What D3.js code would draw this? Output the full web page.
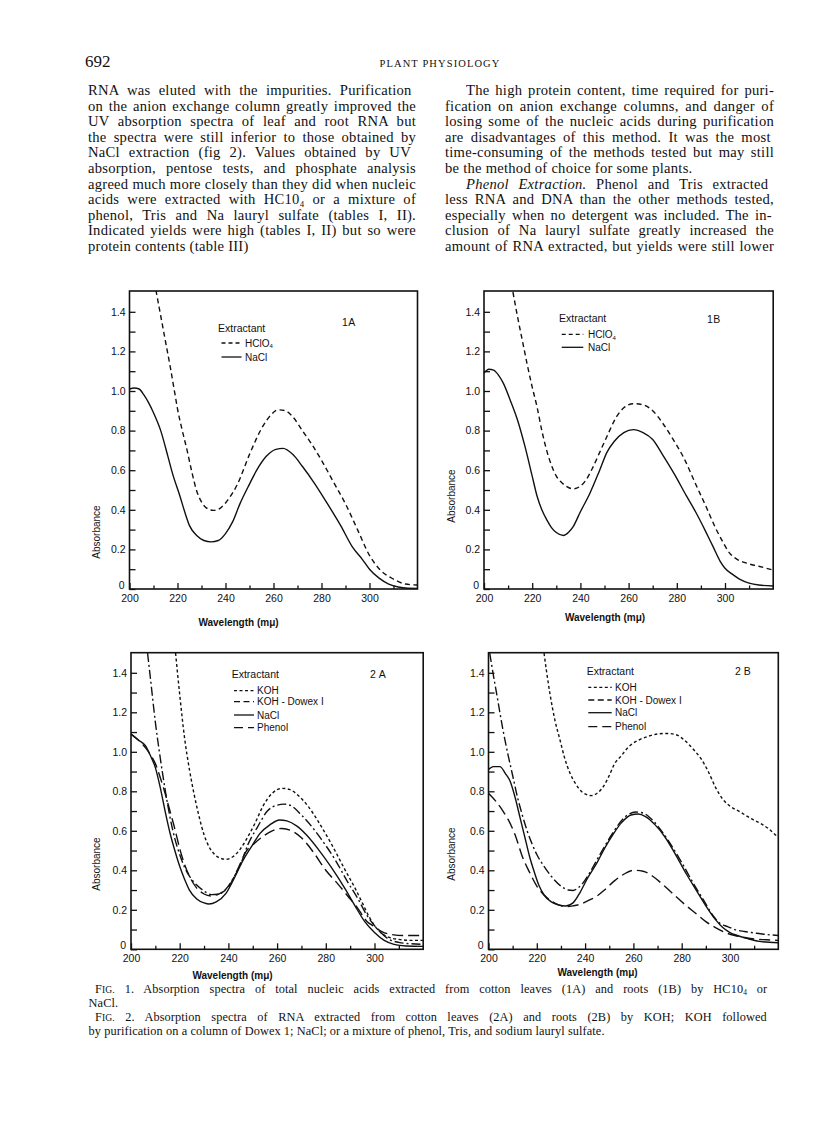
<!DOCTYPE html>
<html><head><meta charset="utf-8">
<script src="https://cdnjs.cloudflare.com/ajax/libs/d3/7.8.5/d3.min.js"></script>
<style>body{margin:0;background:#fff}</style>
</head><body><svg id="c" width="816" height="1127"></svg>
<script>
// ---------- DATA (wavelength nm, absorbance) ----------
const wavelengthMajorTicks = [200, 220, 240, 260, 280, 300];
const wavelengthMinorTicks = [210, 230, 250, 270, 290, 310];
const absorbanceLabelTicks = [0, 0.2, 0.4, 0.6, 0.8, 1.0, 1.2, 1.4];
const absorbanceMinorTicks = [0.1, 0.3, 0.5, 0.7, 0.9, 1.1, 1.3];

const fig1A_HClO4 = [[211,1.51],[213,1.38],[215,1.25],[217,1.12],[219,0.98],[220,0.91],[222,0.80],[224,0.70],[226,0.59],[228,0.495],[230,0.44],[232,0.41],[235,0.397],[238,0.41],[241,0.45],[245,0.53],[250,0.68],[255,0.81],[259,0.88],[262,0.905],[265,0.90],[268,0.87],[272,0.80],[276,0.73],[280,0.65],[285,0.54],[290,0.43],[295,0.30],[300,0.17],[305,0.09],[310,0.05],[315,0.025],[320,0.02]];
const fig1A_NaCl = [[200,1.01],[202,1.015],[204,1.01],[206,0.98],[208,0.94],[210,0.89],[213,0.80],[216,0.67],[218,0.58],[221,0.47],[223,0.39],[225,0.32],[228,0.27],[231,0.245],[234,0.238],[237,0.245],[240,0.28],[243,0.34],[246,0.43],[250,0.53],[253,0.60],[257,0.67],[261,0.705],[264,0.71],[268,0.68],[272,0.62],[277,0.535],[282,0.44],[288,0.32],[293,0.21],[297,0.15],[300,0.10],[304,0.055],[308,0.025],[312,0.01],[316,0.004],[320,0.003]];

const fig1B_HClO4 = [[212,1.50],[214,1.37],[216,1.25],[218,1.13],[220,1.02],[222,0.92],[224,0.80],[226,0.70],[228,0.625],[230,0.57],[232,0.54],[234,0.52],[237,0.506],[240,0.52],[242,0.545],[245,0.61],[248,0.69],[251,0.77],[255,0.87],[258,0.915],[262,0.936],[266,0.93],[270,0.90],[274,0.84],[278,0.765],[283,0.66],[288,0.525],[292,0.42],[296,0.31],[299,0.24],[302,0.18],[305,0.15],[309,0.13],[314,0.115],[320,0.095]];
const fig1B_NaCl = [[200,1.09],[202,1.11],[204,1.105],[206,1.08],[208,1.04],[211,0.95],[214,0.85],[217,0.72],[220,0.57],[222,0.47],[224,0.40],[226,0.35],[228,0.31],[230,0.285],[233,0.27],[235,0.285],[237,0.315],[240,0.39],[244,0.485],[248,0.60],[251,0.69],[254,0.745],[258,0.79],[262,0.805],[266,0.79],[270,0.755],[274,0.68],[279,0.58],[284,0.47],[288,0.385],[292,0.29],[295,0.215],[298,0.14],[300,0.105],[303,0.075],[306,0.05],[310,0.03],[314,0.02],[320,0.015]];

const fig2A_KOH = [[218.3,1.50],[220,1.29],[222,1.07],[224,0.91],[226,0.78],[228,0.67],[230,0.58],[232,0.52],[234,0.485],[236,0.465],[239,0.456],[242,0.47],[245,0.51],[248,0.57],[251,0.64],[254,0.72],[258,0.79],[262,0.815],[265,0.81],[269,0.775],[273,0.72],[277,0.645],[282,0.54],[288,0.40],[292,0.31],[295,0.235],[298,0.16],[300,0.12],[303,0.08],[306,0.06],[310,0.05],[315,0.045],[320,0.045]];
const fig2A_KOHDowex = [[206.8,1.50],[208,1.37],[210,1.15],[212,0.97],[214,0.81],[216,0.67],[218,0.56],[220,0.48],[222,0.415],[224,0.37],[227,0.325],[230,0.295],[233,0.277],[236,0.28],[239,0.305],[242,0.36],[245,0.43],[248,0.53],[252,0.62],[256,0.70],[260,0.73],[263,0.735],[266,0.725],[270,0.68],[274,0.625],[278,0.56],[284,0.45],[289,0.34],[293,0.26],[297,0.17],[300,0.12],[303,0.08],[306,0.05],[310,0.035],[315,0.028],[320,0.025]];
const fig2A_NaCl = [[200,1.09],[203,1.06],[206,1.03],[208,0.98],[210,0.92],[212,0.82],[214,0.70],[216,0.59],[218,0.50],[220,0.42],[222,0.355],[224,0.30],[227,0.255],[230,0.235],[232,0.229],[235,0.24],[239,0.283],[242,0.35],[246,0.45],[250,0.53],[253,0.587],[257,0.63],[261,0.655],[264,0.65],[268,0.625],[272,0.58],[277,0.505],[282,0.42],[288,0.305],[292,0.22],[296,0.14],[300,0.085],[304,0.045],[308,0.025],[313,0.017],[320,0.015]];
const fig2A_Phenol = [[200,1.09],[203,1.06],[206,1.02],[208,0.985],[210,0.94],[212,0.87],[214,0.79],[216,0.70],[218,0.61],[220,0.51],[222,0.43],[224,0.37],[227,0.31],[230,0.28],[233,0.27],[236,0.28],[240,0.315],[244,0.41],[247,0.49],[251,0.54],[254,0.57],[258,0.60],[262,0.612],[266,0.60],[270,0.565],[275,0.49],[280,0.40],[285,0.33],[289,0.27],[293,0.21],[297,0.14],[300,0.115],[303,0.09],[307,0.075],[312,0.07],[320,0.07]];

const fig2B_KOH = [[223,1.50],[224,1.41],[225.5,1.29],[227.5,1.16],[229.6,1.06],[231.5,0.97],[233.8,0.89],[236,0.84],[238,0.805],[240,0.787],[242.7,0.778],[245,0.79],[247.5,0.823],[250,0.88],[252,0.935],[255,0.98],[258,1.025],[262,1.058],[266,1.078],[270,1.09],[274,1.093],[278,1.085],[281,1.06],[285,1.01],[288,0.965],[291,0.90],[294,0.82],[297,0.76],[300,0.725],[304,0.697],[309,0.66],[313,0.635],[316,0.61],[320,0.565]];
const fig2B_KOHDowex = [[200.5,1.50],[202,1.39],[204,1.25],[206,1.11],[208,0.99],[210,0.88],[212,0.77],[214,0.68],[216,0.60],[218,0.535],[220,0.48],[223,0.42],[226,0.37],[230,0.32],[233,0.30],[235,0.298],[237,0.31],[239,0.334],[242,0.39],[245,0.455],[248,0.52],[251,0.58],[254,0.635],[257,0.675],[261,0.695],[264,0.69],[267,0.665],[271,0.61],[275,0.54],[280,0.44],[285,0.33],[289,0.25],[293,0.17],[296,0.13],[299,0.115],[302,0.10],[306,0.09],[310,0.083],[315,0.075],[320,0.07]];
const fig2B_NaCl = [[200,0.91],[202,0.925],[204.7,0.925],[207,0.89],[209,0.85],[211,0.77],[213,0.67],[215,0.57],[217,0.47],[219,0.39],[221,0.32],[223,0.275],[226,0.24],[229,0.225],[232,0.219],[235,0.235],[238,0.29],[241,0.36],[245,0.44],[248,0.51],[252,0.59],[255,0.64],[259,0.68],[262,0.685],[265,0.672],[269,0.63],[273,0.57],[277,0.49],[282,0.38],[286,0.30],[290,0.22],[294,0.15],[297,0.11],[300,0.085],[303,0.07],[307,0.055],[312,0.04],[320,0.033]];
const fig2B_Phenol = [[200,0.79],[203,0.75],[206,0.70],[208,0.66],[211,0.58],[214,0.47],[217,0.39],[220,0.32],[223,0.275],[226,0.245],[229,0.225],[232,0.216],[235,0.22],[238,0.228],[241,0.245],[245,0.27],[248,0.30],[252,0.345],[256,0.38],[260,0.40],[264,0.395],[268,0.37],[272,0.33],[276,0.285],[281,0.23],[286,0.18],[290,0.14],[294,0.11],[298,0.085],[302,0.07],[306,0.06],[310,0.052],[315,0.048],[320,0.045]];

// ---------- TEXT ----------
const headerPage = "692";
const headerJournal = "PLANT PHYSIOLOGY";
const leftColumn = [
  "RNA was eluted with the impurities.  Purification",
  "on the anion exchange column greatly improved the",
  "UV absorption spectra of leaf and root RNA but",
  "the spectra were still inferior to those obtained by",
  "NaCl extraction (fig 2).  Values obtained by UV",
  "absorption, pentose tests, and phosphate analysis",
  "agreed much more closely than they did when nucleic",
  "acids were extracted with HC10{sub:4} or a mixture of",
  "phenol, Tris and Na lauryl sulfate (tables I, II).",
  "Indicated yields were high (tables I, II) but so were",
  "protein contents (table III)"
];
const leftJustify = [1,1,1,1,1,1,1,1,1,1,0];
const rightColumn = [
  "The high protein content, time required for puri-",
  "fication on anion exchange columns, and danger of",
  "losing some of the nucleic acids during purification",
  "are disadvantages of this method.  It was the most",
  "time-consuming of the methods tested but may still",
  "be the method of choice for some plants.",
  "{i:Phenol Extraction.}  Phenol and Tris extracted",
  "less RNA and DNA than the other methods tested,",
  "especially when no detergent was included.  The in-",
  "clusion of Na lauryl sulfate greatly increased the",
  "amount of RNA extracted, but yields were still lower"
];
const rightJustify = [1,1,1,1,1,0,1,1,1,1,1];
const rightIndent = [1,0,0,0,0,0,1,0,0,0,0];
const captionLines = [
  "{sc:Fig.} 1.  Absorption spectra of total nucleic acids extracted from cotton leaves (1A) and roots (1B) by HC10{sub:4} or",
  "NaCl.",
  "{sc:Fig.} 2.  Absorption spectra of RNA extracted from cotton leaves (2A) and roots (2B) by KOH; KOH followed",
  "by purification on a column of Dowex 1; NaCl; or a mixture of phenol, Tris, and sodium lauryl sulfate."
];

const styleDash = {HClO4:"5,3.5", KOH:"3,2.5", KOHDowex:"9,3,2,3", NaCl:null, Phenol:"11,5"};

const panels = [
  {tag:"1A", series:[[fig1A_HClO4,"HClO4"],[fig1A_NaCl,"NaCl"]],
   legend:[["HClO{sub:4}","HClO4"],["NaCl","NaCl"]]},
  {tag:"1B", series:[[fig1B_HClO4,"HClO4"],[fig1B_NaCl,"NaCl"]],
   legend:[["HClO{sub:4}","HClO4"],["NaCl","NaCl"]]},
  {tag:"2A", series:[[fig2A_KOH,"KOH"],[fig2A_KOHDowex,"KOHDowex"],[fig2A_NaCl,"NaCl"],[fig2A_Phenol,"Phenol"]],
   legend:[["KOH","KOH"],["KOH - Dowex I","DowexLegend"],["NaCl","NaCl"],["Phenol","Phenol"]]},
  {tag:"2B", series:[[fig2B_KOH,"KOH"],[fig2B_KOHDowex,"KOHDowex"],[fig2B_NaCl,"NaCl"],[fig2B_Phenol,"Phenol"]],
   legend:[["KOH","KOH"],["KOH - Dowex I","DowexLegend"],["NaCl","NaCl"],["Phenol","Phenol"]]}
];
const legendDash = {HClO4:"4,3", NaCl:null, KOH:"3,2.5", DowexLegend:"6,3.5", Phenol:"9,5"};

// ---------- LAYOUT ----------
const layout = {
  "1A": {left:129.5, pxNm:2.40, base:589, top:291, pxAbs:198,
         ylab:[96.7,532], xlab:[238.5,625.5],
         title:[218,332], tagPos:[342,326], legX:[221.5,241.5,245], legY:[343,357]},
  "1B": {left:484, pxNm:2.41, base:589, top:291, pxAbs:198,
         ylab:[451.7,496], xlab:[605,620.5],
         title:[559,322], tagPos:[707,323], legX:[561.7,583.3,588], legY:[334.3,347.3]},
  "2A": {left:131, pxNm:2.435, base:949.3, top:652.7, pxAbs:197.5,
         ylab:[96.7,864], xlab:[232.5,979],
         title:[231.7,678], tagPos:[370,678], legX:[234,254,257], legY:[690.7,701.7,715,727.7]},
  "2B": {left:488.5, pxNm:2.415, base:949.3, top:652.7, pxAbs:197.5,
         ylab:[451.7,854], xlab:[597.5,975.5],
         title:[586.7,674.5], tagPos:[735,674.5], legX:[588.3,611.7,615], legY:[687.3,700,712.7,726.7]}
};

const SERIF = "'Liberation Serif','Times New Roman',serif";
const SANS = "'Liberation Sans',Arial,sans-serif";

const svg = d3.select("#c");
svg.append("rect").attr("width",816).attr("height",1127).attr("fill","#fff");

function richText(parent, x, y, str, fs, family, extra) {
  const t = parent.append("text").attr("x", x).attr("y", y)
    .attr("font-family", family).attr("font-size", fs).attr("fill", "#111");
  if (extra) Object.entries(extra).forEach(([k,v]) => t.attr(k, v));
  const parts = str.split(/(\{[a-z]+:[^}]*\})/).filter(s => s.length);
  let shift = 0;
  parts.forEach(p => {
    const m = p.match(/^\{([a-z]+):([^}]*)\}$/);
    if (m && m[1] === "sub") {
      t.append("tspan").attr("dy", fs*0.16).attr("font-size", fs*0.6).text(m[2]);
      shift = fs*0.16;
    } else if (m && m[1] === "i") {
      const s = t.append("tspan").attr("font-style","italic").text(m[2]);
      if (shift) { s.attr("dy", -shift); shift = 0; }
    } else if (m && m[1] === "sc") {
      const s = t.append("tspan").text(m[2][0]);
      if (shift) { s.attr("dy", -shift); shift = 0; }
      t.append("tspan").attr("font-size", fs*0.78).text(m[2].slice(1).toUpperCase());
    } else {
      const s = t.append("tspan").text(p);
      if (shift) { s.attr("dy", -shift); shift = 0; }
    }
  });
  return t;
}
function justify(t, width) {
  const natural = t.node().getComputedTextLength();
  const txt = t.text();
  const n = (txt.match(/ /g) || []).length;
  if (n > 0) t.attr("word-spacing", (width - natural) / n);
}

// header
svg.append("text").attr("x",85).attr("y",67).attr("font-family",SERIF).attr("font-size",17)
  .attr("fill","#111").text(headerPage);
svg.append("text").attr("x",440).attr("y",67).attr("text-anchor","middle").attr("font-family",SERIF)
  .attr("font-size",10.5).attr("letter-spacing",1.1).attr("fill","#111").text(headerJournal);

// body columns
const bodyFS = 14.6, lead = 15.6, firstBase = 95;
leftColumn.forEach((line, i) => {
  const t = richText(svg, 88, firstBase + i*lead, line, bodyFS, SERIF, {"letter-spacing":0.25});
  if (leftJustify[i]) justify(t, 328);
});
rightColumn.forEach((line, i) => {
  const ind = rightIndent[i] ? 21 : 0;
  const t = richText(svg, 445 + ind, firstBase + i*lead, line, bodyFS, SERIF, {"letter-spacing":0.25});
  if (rightJustify[i]) justify(t, 329 - ind);
});

// caption
const capBase = [993, 1007.3, 1020.7, 1035];
const capX = [95, 88.6, 95, 88.6];
const capJust = [1, 0, 1, 0];
captionLines.forEach((line, i) => {
  const t = richText(svg, capX[i], capBase[i], line, 12.3, SERIF, {"letter-spacing":0.1});
  if (capJust[i]) justify(t, 774 - capX[i]);
});

// ---------- PANELS ----------
panels.forEach((p, pi) => {
  const L = layout[p.tag];
  const right = L.left + 120 * L.pxNm;
  const ymax = (L.base - L.top) / L.pxAbs;
  const x = d3.scaleLinear().domain([200, 320]).range([L.left, right]);
  const y = d3.scaleLinear().domain([0, ymax]).range([L.base, L.top]);
  const g = svg.append("g");

  const clipId = "clip" + pi;
  g.append("clipPath").attr("id", clipId).append("rect")
    .attr("x", L.left).attr("y", L.top).attr("width", right - L.left).attr("height", L.base - L.top);

  // axes (ticks inward)
  const xMaj = d3.axisBottom(x).tickValues(wavelengthMajorTicks).tickSize(-6).tickPadding(5.5).tickFormat(d3.format("d"));
  const xMin = d3.axisBottom(x).tickValues(wavelengthMinorTicks).tickSize(-3.5).tickFormat("");
  const yMaj = d3.axisLeft(y).tickValues(absorbanceLabelTicks).tickSize(-6).tickPadding(4)
    .tickFormat(d => d === 0 ? "0" : d3.format(".1f")(d));
  const yMin = d3.axisLeft(y).tickValues(absorbanceMinorTicks).tickSize(-6).tickFormat("");
  [[xMaj, "translate(0," + L.base + ")"], [xMin, "translate(0," + L.base + ")"],
   [yMaj, "translate(" + L.left + ",0)"], [yMin, "translate(" + L.left + ",0)"]].forEach(([ax, tr], ai) => {
    const a = g.append("g").attr("transform", tr).call(ax);
    a.select(".domain").remove();
    a.selectAll("line").attr("stroke", "#111").attr("stroke-width", 1.3);
    a.selectAll("text").attr("font-family", SANS).attr("font-size", 10.5).attr("fill", "#111");
    if (ai === 2) {
      a.selectAll(".tick").filter(d => d === 0).select("text").attr("dy", "-0.05em").attr("x", -5);
    }
  });

  // frame
  g.append("rect").attr("x", L.left).attr("y", L.top).attr("width", right - L.left)
    .attr("height", L.base - L.top).attr("fill", "none").attr("stroke", "#111").attr("stroke-width", 1.6);

  // curves
  const line = d3.line().x(d => x(d[0])).y(d => y(d[1])).curve(d3.curveMonotoneX);
  p.series.forEach(([data, key]) => {
    const path = g.append("path").attr("clip-path", "url(#" + clipId + ")").datum(data)
      .attr("d", line).attr("fill", "none").attr("stroke", "#111").attr("stroke-width", 1.4);
    if (styleDash[key]) path.attr("stroke-dasharray", styleDash[key]);
  });

  // legend
  g.append("text").attr("x", L.title[0]).attr("y", L.title[1]).attr("font-family", SANS)
    .attr("font-size", 10.5).attr("fill", "#111").text("Extractant");
  g.append("text").attr("x", L.tagPos[0]).attr("y", L.tagPos[1]).attr("font-family", SANS)
    .attr("font-size", 10.5).attr("letter-spacing", p.tag[0] === "2" ? 3 : 0.5).attr("fill", "#111").text(p.tag);
  p.legend.forEach(([label, key], i) => {
    const ly = L.legY[i];
    const ln = g.append("line").attr("x1", L.legX[0]).attr("x2", L.legX[1]).attr("y1", ly).attr("y2", ly)
      .attr("stroke", "#111").attr("stroke-width", 1.3);
    if (legendDash[key]) ln.attr("stroke-dasharray", legendDash[key]);
    richText(g, L.legX[2], ly + 3.6, label, 10, SANS, {});
  });

  // axis titles
  g.append("text").attr("x", L.xlab[0]).attr("y", L.xlab[1]).attr("text-anchor", "middle")
    .attr("font-family", SANS).attr("font-size", 10).attr("font-weight", "bold").attr("fill", "#111")
    .text("Wavelength (mμ)");
  g.append("text").attr("transform", "translate(" + L.ylab[0] + "," + L.ylab[1] + ") rotate(-90)")
    .attr("text-anchor", "middle").attr("dy", "0.35em").attr("font-family", SANS).attr("font-size", 10)
    .attr("fill", "#111").text("Absorbance");
});
</script></body></html>
